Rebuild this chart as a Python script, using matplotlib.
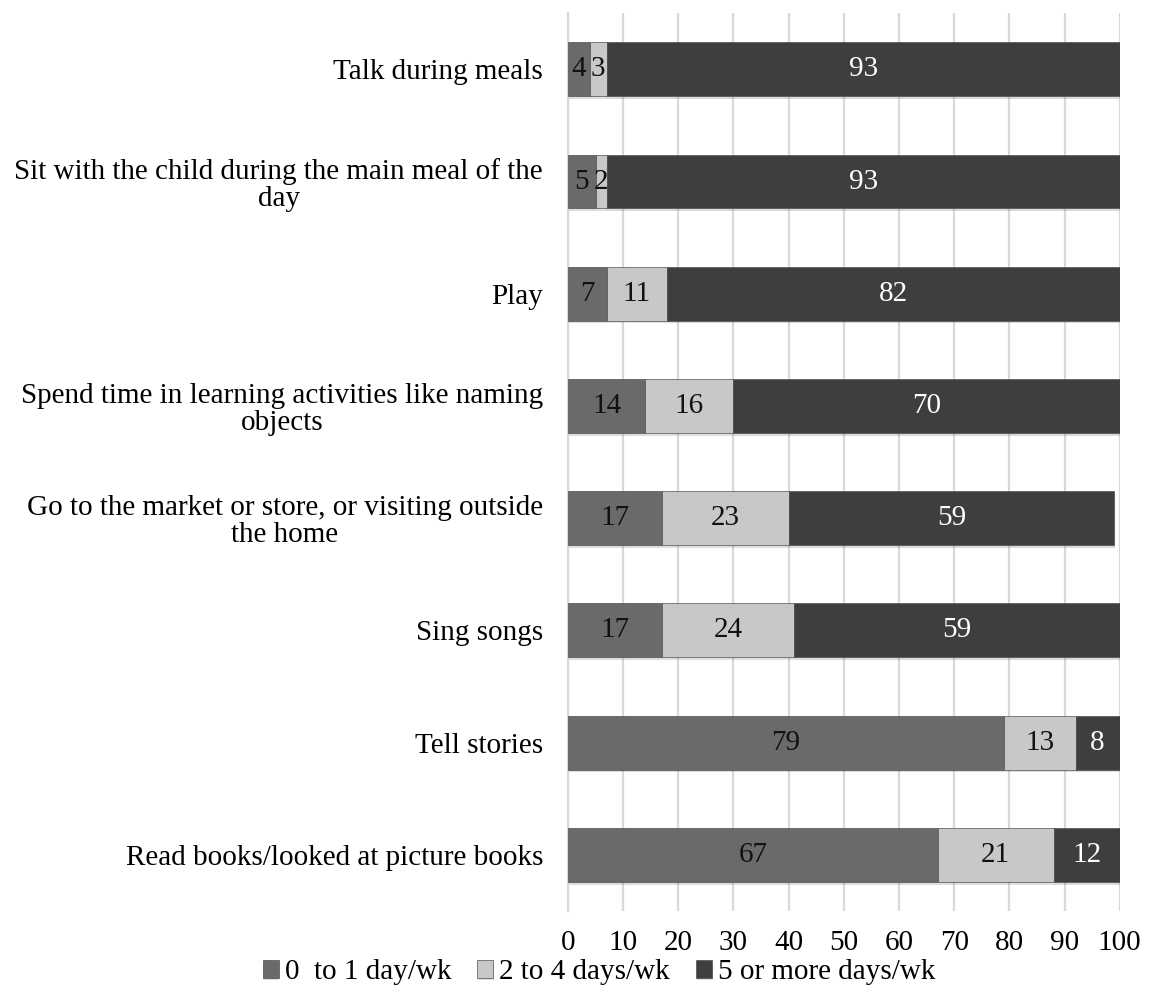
import matplotlib
matplotlib.use('Agg')
import matplotlib.pyplot as plt
import matplotlib.patheffects as pe
import numpy as np

# Activities, listed top to bottom
activities = [
    'Talk during meals',
    'Sit with the child during the main meal of the\nday',
    'Play',
    'Spend time in learning activities like naming\nobjects',
    'Go to the market or store, or visiting outside\nthe home',
    'Sing songs',
    'Tell stories',
    'Read books/looked at picture books',
]
low = [4, 5, 7, 14, 17, 17, 79, 67]       # 0 to 1 day/wk
mid = [3, 2, 11, 16, 23, 24, 13, 21]      # 2 to 4 days/wk
high = [93, 93, 82, 70, 59, 59, 8, 12]    # 5 or more days/wk
series_names = ['0  to 1 day/wk', '2 to 4 days/wk', '5 or more days/wk']
x_ticks = [0, 10, 20, 30, 40, 50, 60, 70, 80, 90, 100]

plt.rcParams['font.family'] = ['Liberation Serif', 'DejaVu Serif']
FS = 21

fig = plt.figure(figsize=(11.52, 9.92), dpi=100)
ax = fig.add_axes([0.493, 0.0817, 0.479, 0.905])

colors = ['#6a6a6a', '#c8c8c8', '#403d3e']
text_colors = ['#111111', '#111111', 'white']
y = np.arange(len(activities))
shadow = [pe.SimplePatchShadow(offset=(0.5, -2), alpha=0.15), pe.Normal()]

left = np.zeros(len(activities))
for vals, name, col, tcol in zip([low, mid, high], series_names, colors, text_colors):
    bars = ax.barh(y, vals, left=left, height=0.48, color=col, label=name,
                   edgecolor='#505050', linewidth=0.5, zorder=3)
    for b in bars:
        b.set_path_effects(shadow)
    ax.bar_label(bars, labels=[str(v) for v in vals], label_type='center',
                 color=tcol, fontsize=FS)
    left += np.array(vals)

ax.set_xlim(0, 100)
ax.set_ylim(len(activities) - 0.5, -0.5)
ax.set_xticks(x_ticks)
ax.set_yticks(y)
ax.set_yticklabels(activities, fontsize=FS, multialignment='center', linespacing=1.05)
ax.tick_params(axis='x', labelsize=FS, length=0, pad=14)
ax.tick_params(axis='y', length=0, pad=18)
ax.grid(axis='x', color='#d9d9d9', linewidth=1.6, zorder=0)
for s in ['top', 'right', 'bottom']:
    ax.spines[s].set_visible(False)
ax.spines['left'].set_color('#d9d9d9')
ax.spines['left'].set_linewidth(1.6)

ax.legend(loc='center', bbox_to_anchor=(0.52, 0.02), bbox_transform=fig.transFigure,
          ncol=3, frameon=False, fontsize=FS, handlelength=0.55, handleheight=0.55,
          handletextpad=0.2, columnspacing=0.9, borderpad=0.1)

fig.savefig('out.png', dpi=100)
